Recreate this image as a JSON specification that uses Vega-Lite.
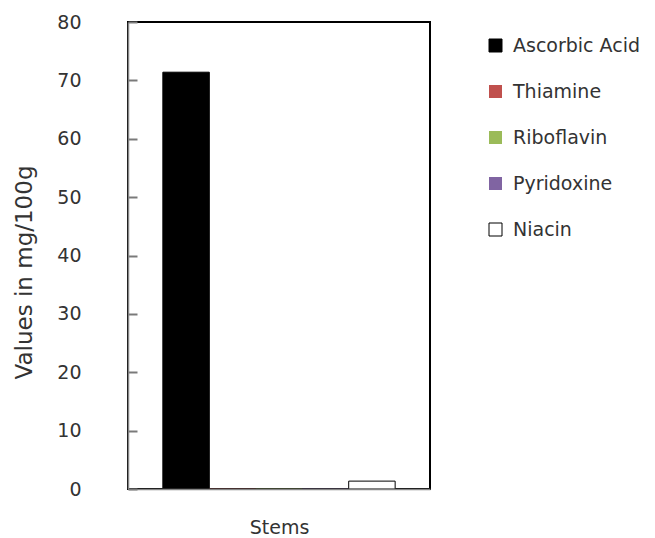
{
  "$schema": "https://vega.github.io/schema/vega-lite/v6.json",
  "autosize": "none",
  "width": 302,
  "height": 467,
  "padding": {"left": 128, "top": 22, "right": 225, "bottom": 49},
  "background": "white",
  "data": {
    "values": [
      {"part": "Stems", "vitamin": "Ascorbic Acid", "value": 71.4},
      {"part": "Stems", "vitamin": "Thiamine", "value": 0.03},
      {"part": "Stems", "vitamin": "Riboflavin", "value": 0.04},
      {"part": "Stems", "vitamin": "Pyridoxine", "value": 0.05},
      {"part": "Stems", "vitamin": "Niacin", "value": 1.35}
    ]
  },
  "encoding": {
    "x": {
      "field": "part",
      "type": "nominal",
      "scale": {"paddingInner": 0, "paddingOuter": 0.15},
      "axis": {
        "labels": false,
        "ticks": false,
        "title": "Stems",
        "titlePadding": 29,
        "titleFontSize": 19,
        "titleFontWeight": "normal",
        "titleColor": "#333333",
        "domainColor": "#868686",
        "domainWidth": 1.5,
        "zindex": 1
      }
    },
    "xOffset": {
      "field": "vitamin",
      "type": "nominal",
      "sort": ["Ascorbic Acid", "Thiamine", "Riboflavin", "Pyridoxine", "Niacin"],
      "scale": {"paddingInner": 0, "paddingOuter": 0}
    }
  },
  "layer": [
    {
      "mark": {"type": "bar", "strokeWidth": 1},
      "encoding": {
        "y": {
          "field": "value",
          "type": "quantitative",
          "scale": {"domain": [0, 80], "nice": false},
          "axis": {
            "values": [0, 10, 20, 30, 40, 50, 60, 70, 80],
            "grid": false,
            "ticks": true,
            "tickSize": 20,
            "tickColor": "transparent",
            "title": "Values in mg/100g",
            "titleFontSize": 23,
            "titleFontWeight": "normal",
            "titleColor": "#333333",
            "titleX": -92,
            "titleY": 250,
            "labelFontSize": 19,
            "labelColor": "#333333",
            "labelPadding": 27,
            "domainColor": "#868686",
            "domainWidth": 1.5,
            "zindex": 1
          }
        },
        "color": {
          "field": "vitamin",
          "type": "nominal",
          "sort": ["Ascorbic Acid", "Thiamine", "Riboflavin", "Pyridoxine", "Niacin"],
          "scale": {
            "domain": ["Ascorbic Acid", "Thiamine", "Riboflavin", "Pyridoxine", "Niacin"],
            "range": ["#000000", "#c0504d", "#9bbb59", "#8064a2", "#ffffff"]
          },
          "legend": {
            "title": null,
            "orient": "none",
            "legendX": 358,
            "legendY": 14,
            "symbolType": "square",
            "symbolSize": 169,
            "labelFontSize": 19,
            "labelColor": "#333333",
            "labelOffset": 8,
            "rowPadding": 26,
            "labelLimit": 200
          }
        },
        "stroke": {
          "field": "vitamin",
          "type": "nominal",
          "sort": ["Ascorbic Acid", "Thiamine", "Riboflavin", "Pyridoxine", "Niacin"],
          "scale": {
            "domain": ["Ascorbic Acid", "Thiamine", "Riboflavin", "Pyridoxine", "Niacin"],
            "range": ["#000000", "transparent", "transparent", "transparent", "#000000"]
          },
          "legend": {
            "title": null,
            "orient": "none",
            "legendX": 358,
            "legendY": 14,
            "symbolType": "square",
            "symbolSize": 169,
            "labelFontSize": 19,
            "labelColor": "#333333",
            "labelOffset": 8,
            "rowPadding": 26,
            "labelLimit": 200
          }
        }
      }
    },
    {
      "mark": {"type": "bar", "opacity": 0},
      "encoding": {
        "y": {
          "field": "value",
          "type": "quantitative",
          "axis": {
            "orient": "right",
            "offset": -302,
            "values": [0, 10, 20, 30, 40, 50, 60, 70, 80],
            "grid": false,
            "labels": false,
            "domain": false,
            "title": null,
            "ticks": true,
            "tickSize": 9,
            "tickWidth": 2,
            "tickColor": "#7a7a7a",
            "zindex": 1
          }
        }
      }
    }
  ],
  "resolve": {"axis": {"y": "independent"}},
  "config": {
    "font": "DejaVu Sans",
    "view": {"stroke": "#000000", "strokeWidth": 2},
    "legend": {"symbolStrokeWidth": 1}
  }
}
